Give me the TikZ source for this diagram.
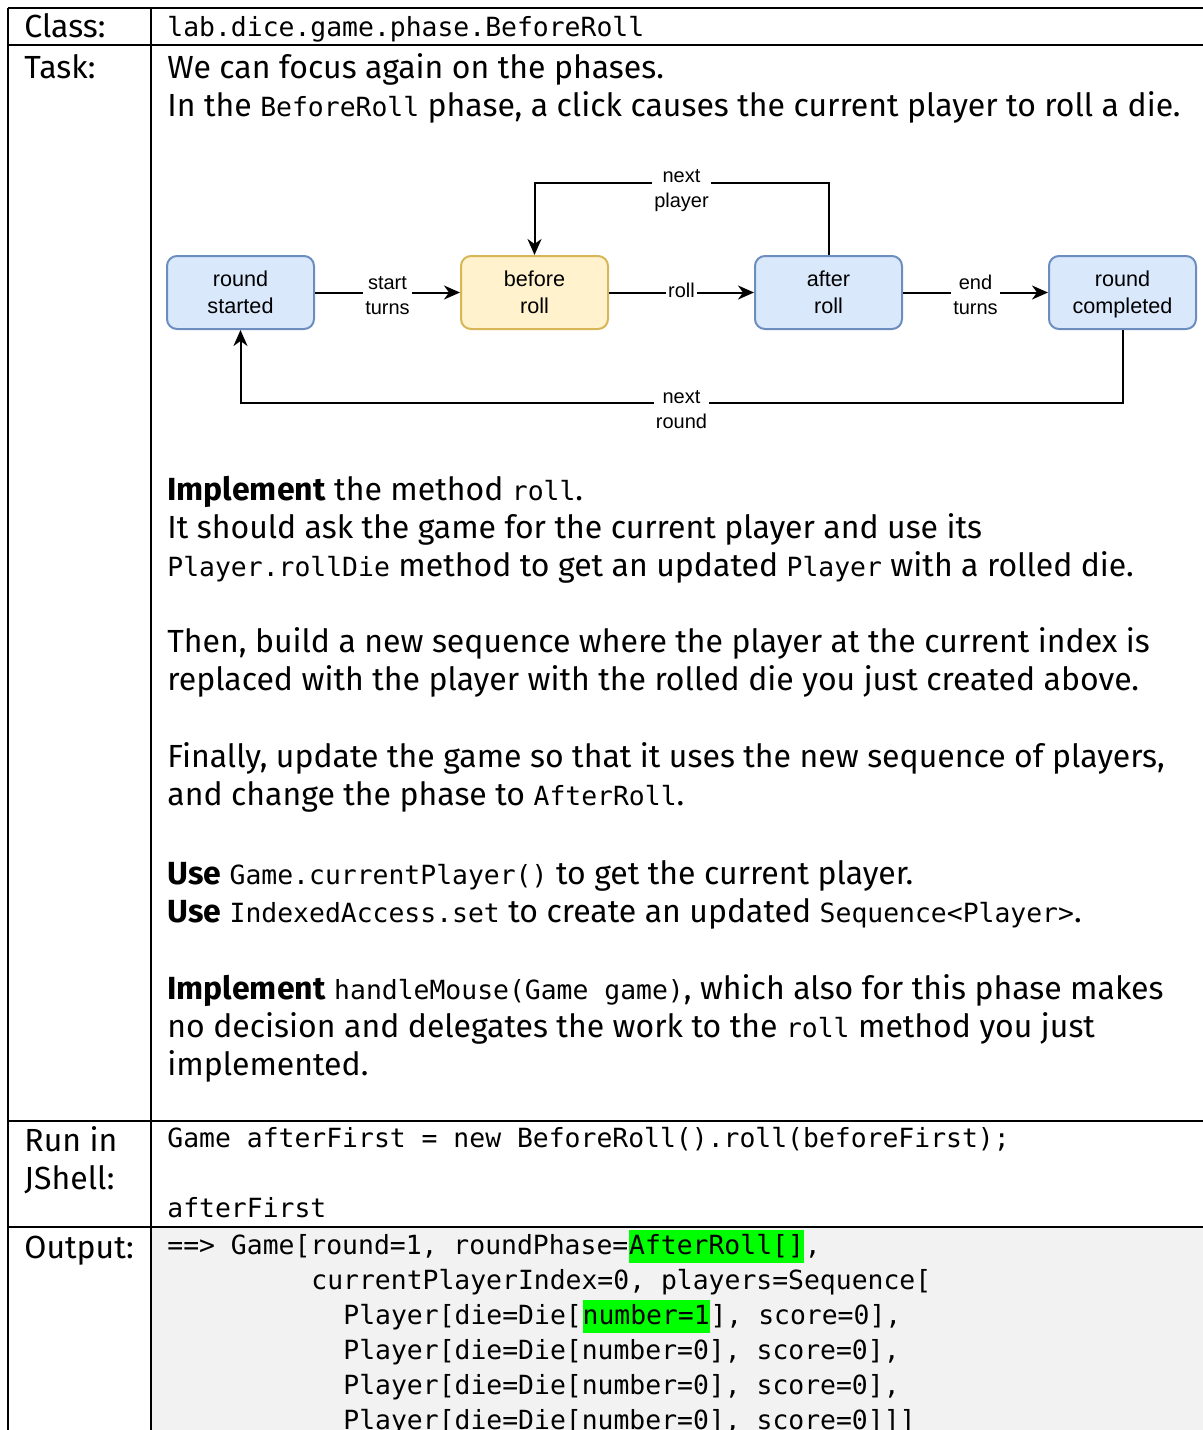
\documentclass[tikz,border=0pt]{standalone}
\usepackage{fontspec}
\setmainfont{Fira Sans}
\setmonofont{DejaVu Sans Mono}
\newfontfamily\diagfont{Liberation Sans}
\usetikzlibrary{arrows.meta}

\definecolor{stateblue}{HTML}{DAE8FC}
\definecolor{stateblueline}{HTML}{6C8EBF}
\definecolor{stateyellow}{HTML}{FFF2CC}
\definecolor{stateyellowline}{HTML}{D6B656}
\definecolor{outbg}{HTML}{F2F2F2}
\definecolor{hlgreen}{HTML}{00FF00}

\newcommand{\cd}[1]{{\fontsize{13.2}{17}\ttfamily #1}}
% one line of a label, with a fixed height and depth
\newcommand{\sline}[1]{#1\strut}
% one line inside a state box, sitting a little low
\newcommand{\bline}[1]{#1\rule[-3.05pt]{0pt}{13.5pt}}

\begin{document}
\begin{tikzpicture}[x=0.5pt,y=-0.5pt,
  grid/.style={line width=1pt, black},
  txt/.style={anchor=base west, inner sep=0pt, font=\fontsize{16}{19}\selectfont},
  code/.style={anchor=base west, inner sep=0pt, font=\fontsize{13.2}{17}\ttfamily},
  hl/.style={code, fill=hlgreen, text height=12pt, text depth=4.5pt},
  state/.style={draw=stateblueline, fill=stateblue, line width=1pt, rounded corners=5pt,
    minimum width=73.5pt, minimum height=36.5pt, align=center,
    font=\diagfont\fontsize{10.8}{13.5}\selectfont},
  activestate/.style={state, draw=stateyellowline, fill=stateyellow},
  conn/.style={line width=1pt, -{Stealth[length=8pt,width=7pt,inset=2.5pt]}},
  lbl/.style={fill=white, inner sep=1pt, align=center,
    font=\diagfont\fontsize{10}{12.5}\selectfont}
]
\useasboundingbox (0,0) rectangle (1203,1430);

% output cell background
\fill[outbg] (151,1227) rectangle (1203,1430);

% table rules
\draw[grid] (8,8) -- (1203,8);
\draw[grid] (8,45) -- (1203,45);
\draw[grid] (8,1121) -- (1203,1121);
\draw[grid] (8,1227) -- (1203,1227);
\draw[grid] (8,8) -- (8,1430);
\draw[grid] (151,8) -- (151,1430);

% row headers
\node[txt] (hclass) at (24,37) {Class:};
\node[txt] (htask) at (24,78) {Task:};
\node[txt] (hrun1) at (24,1151) {Run in};
\node[txt] (hrun2) at (24,1189) {JShell:};
\node[txt] (hout) at (24,1258) {Output:};

% class name
\node[code] (cls) at (167,36) {lab.dice.game.phase.BeforeRoll};

% task text
\node[txt] (t1) at (167,78) {We can focus again on the phases.};
\node[txt] (t2) at (167,116) {In the \cd{BeforeRoll} phase, a click causes the current player to roll a die.};

\node[txt] (t3) at (167,500) {\textbf{Implement} the method \cd{roll}.};
\node[txt] (t4) at (167,538) {It should ask the game for the current player and use its};
\node[txt] (t5) at (167,576) {\cd{Player.rollDie} method to get an updated \cd{Player} with a rolled die.};
\node[txt] (t6) at (167,652) {Then, build a new sequence where the player at the current index is};
\node[txt] (t7) at (167,690) {replaced with the player with the rolled die you just created above.};
\node[txt] (t8) at (167,767) {Finally, update the game so that it uses the new sequence of players,};
\node[txt] (t9) at (167,805) {and change the phase to \cd{AfterRoll}.};
\node[txt] (t10) at (167,884) {\textbf{Use} \cd{Game.currentPlayer()} to get the current player.};
\node[txt] (t11) at (167,922) {\textbf{Use} \cd{IndexedAccess.set} to create an updated \cd{Sequence<Player>}.};
\node[txt] (t12) at (167,999) {\textbf{Implement} \cd{handleMouse(Game game)}, which also for this phase makes};
\node[txt] (t13) at (167,1037) {no decision and delegates the work to the \cd{roll} method you just};
\node[txt] (t14) at (167,1075) {implemented.};

% state diagram
\node[state] (rs) at (240.5,292.5) {\bline{round}\\\bline{started}};
\node[activestate] (br) at (534.5,292.5) {\bline{before}\\\bline{roll}};
\node[state] (ar) at (828.5,292.5) {\bline{after}\\\bline{roll}};
\node[state] (rc) at (1122.5,292.5) {\bline{round}\\\bline{completed}};

\coordinate (np1) at (828.5,183);
\coordinate (np2) at (534.5,183);
\coordinate (nr1) at (1122.5,403);
\coordinate (nr2) at (240.5,403);

\draw[conn] (rs) -- node[lbl, yshift=-2pt] {\sline{start}\\\sline{turns}} (br);
\draw[conn] (br) -- node[lbl] {\sline{roll}} (ar);
\draw[conn] (ar) -- node[lbl, yshift=-2pt] {\sline{end}\\\sline{turns}} (rc);
\draw[conn] (ar.north) -- (np1) -- node[lbl, yshift=-3.5pt] {\sline{next}\\\sline{player}} (np2) -- (br.north);
\draw[conn] (rc.south) -- (nr1) -- node[lbl, yshift=-4pt] {\sline{next}\\\sline{round}} (nr2) -- (rs.south);

% jshell input
\node[code] (in1) at (167,1147) {Game afterFirst = new BeforeRoll().roll(beforeFirst);};
\node[code] (in2) at (167,1217) {afterFirst};

% jshell output
\node[code] (o1a) at (167,1254) {==> Game[round=1, roundPhase=};
\node[hl] (o1b) at (o1a.base east) {AfterRoll[]};
\node[code] (o1c) at (o1b.base east) {,};
\node[code] (o2) at (311,1289) {currentPlayerIndex=0, players=Sequence[};
\node[code] (o3a) at (343,1324) {Player[die=Die[};
\node[hl] (o3b) at (o3a.base east) {number=1};
\node[code] (o3c) at (o3b.base east) {], score=0],};
\node[code] (o4) at (343,1359) {Player[die=Die[number=0], score=0],};
\node[code] (o5) at (343,1394) {Player[die=Die[number=0], score=0],};
\node[code] (o6) at (343,1429) {Player[die=Die[number=0], score=0]]]};
\end{tikzpicture}
\end{document}
